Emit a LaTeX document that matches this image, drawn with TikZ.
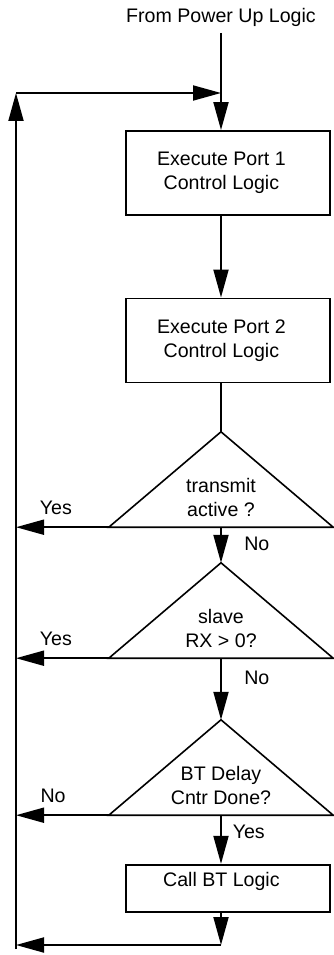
\documentclass[tikz,border=0pt]{standalone}
\usepackage{fontspec}
\setmainfont{Liberation Sans}
\usetikzlibrary{arrows.meta,positioning}
\tikzset{procbox/.style={draw,line width=1.9pt,minimum width=204pt,minimum height=84pt,inner sep=0pt}}
\tikzset{btext/.style={align=center,xshift=-6.5pt}}
\tikzset{cond/.style={minimum width=224pt,minimum height=95pt,inner sep=0pt}}
\tikzset{qtext/.style={align=center,yshift=-18pt}}
\tikzset{flow/.style={->,line width=1.9pt}}
\tikzset{tri/.style={line width=1.6pt,line join=miter}}

\begin{document}
\begin{tikzpicture}[x=1pt,y=-1pt,>={Triangle[length=28pt,width=15pt]},font=\fontsize{19.6}{24}\selectfont]
\useasboundingbox (0,0) rectangle (334,955);
% \draw[help lines] (0,0) grid (334,955);
\node (title) [anchor=base] at (221,23) {From Power Up Logic};
\coordinate (src) at (221,33);
\coordinate (join) at (221,93);
\coordinate (tl) at (16,93);
\coordinate (bl) at (16,949);
\coordinate (bj) at (221,945);
%
\node (b1) [procbox,label={[btext,name=b1t]center:Execute Port 1\\Control Logic}] at (227.9,173) {};
\node (b2) [procbox,label={[btext,name=b2t]center:Execute Port 2\\Control Logic}] at (227.9,340.5) {};
\node (d1) [cond,label={[qtext,name=d1t]center:transmit\\active ?}] at (221,479.5) {};
\node (d2) [cond,label={[qtext,name=d2t]center:slave\\RX > 0?}] at (221,610.5) {};
\node (d3) [cond,label={[qtext,name=d3t]center:BT Delay\\Cntr Done?}] at (221,767.5) {};
\node (b3) [procbox,minimum height=47pt,label={[btext,yshift=7pt,name=b3t]center:Call BT Logic}] at (227.9,888.3) {};
%
\draw[tri] (d1.north) -- (d1.south west) -- (d1.south east) -- cycle;
\draw[tri] (d2.north) -- (d2.south west) -- (d2.south east) -- cycle;
\draw[tri] (d3.north) -- (d3.south west) -- (d3.south east) -- cycle;
%
\draw[flow] (src) -- (b1.north -| src);
\draw[flow] (b1.south -| src) -- (b2.north -| src);
\draw[line width=1.9pt] (b2.south -| src) -- (d1.north);
\draw[flow] (d1.south) -- node (no1) [pos=0.47,right=19pt] {No} (d2.north);
\draw[flow] (d2.south) -- node (no2) [pos=0.32,right=19pt] {No} (d3.north);
\draw[flow] (d3.south) -- node (yes3) [pos=0.35,right=7.5pt] {Yes} (b3.north -| src);
\draw[flow] (d1.south west) -- node (yes1) [pos=0.57,above=8.3pt] {Yes} (d1.south west -| tl);
\draw[flow] (d2.south west) -- node (yes2) [pos=0.57,above=8.3pt] {Yes} (d2.south west -| tl);
\draw[flow] (d3.south west) -- node (no3) [pos=0.60,above=8.3pt] {No} (d3.south west -| tl);
%
\draw[flow] (b3.south -| src) -- (bj);
\draw[flow] (bj) -- (bj -| tl);
\draw[flow] (bl) -- (tl);
\draw[flow] (tl) -- (join);
\end{tikzpicture}
\end{document}
